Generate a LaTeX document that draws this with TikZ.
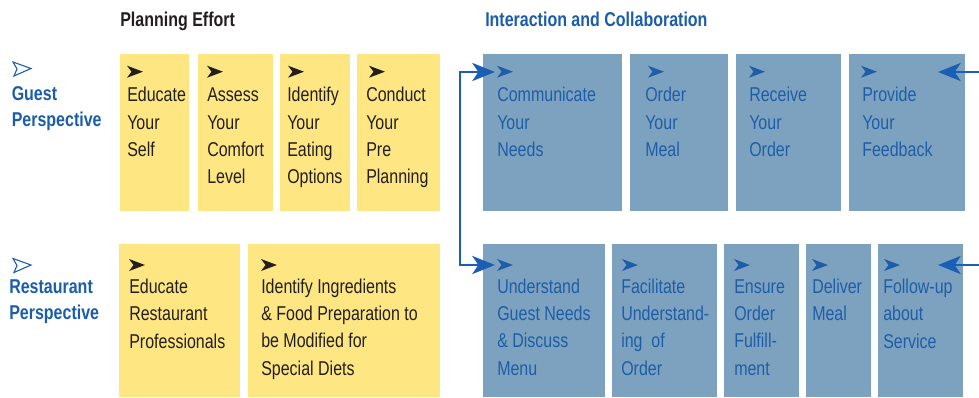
\documentclass[tikz,border=0pt]{standalone}
\usepackage{fontspec}
\setmainfont{Liberation Sans}[FakeStretch=0.8]
\usetikzlibrary{arrows.meta,fit}
\definecolor{yfill}{HTML}{FEE783}
\definecolor{bfill}{HTML}{7DA2BF}
\definecolor{btext}{HTML}{1E5EA8}
\definecolor{hblue}{HTML}{1B5DAA}
\definecolor{ablue}{HTML}{1A5FB4}
\definecolor{dtext}{HTML}{231F20}
\tikzset{
  ybox/.style={fill=yfill, draw=none, inner sep=0pt},
  bbox/.style={fill=bfill, draw=none, inner sep=0pt},
  txt/.style={anchor=base west, align=left, inner sep=0pt, font=\fontsize{15}{20.5}\selectfont},
  ytxt/.style={txt, text=dtext},
  btxt/.style={txt, text=btext},
  hdr/.style={anchor=base west, inner sep=0pt, font=\fontsize{15}{20}\selectfont\bfseries},
  lbl/.style={anchor=base west, align=left, inner sep=0pt, text=hblue, font=\fontsize{15}{19.8}\selectfont\bfseries},
  harr/.pic={\fill (0,0) -- (-16,-6) -- (-11.5,0) -- (-16,6) -- cycle;},
  oarr/.pic={\draw[line width=0.8pt, line join=miter] (0,0) -- (-18,-6.5) -- (-14,0.5) -- (-17,7.5) -- cycle;},
  conn/.style={draw=ablue, line width=2pt},
  bigtip/.tip={Stealth[length=17pt, width=13.5pt, inset=4.5pt]}
}
\begin{document}
\begin{tikzpicture}[x=0.75pt,y=-0.75pt]
\useasboundingbox (0,0) rectangle (979,397);
% headers
\node[hdr, text=dtext] (h1) at (120,26.5) {Planning Effort};
\node[hdr, text=hblue] (h2) at (485,26.5) {Interaction and Collaboration};
% row labels (anchor = baseline of last line)
\path[hblue] (31,68.5) pic {oarr};
\node[lbl] (lg) at (11.5,126.4) {Guest\\Perspective};
\path[hblue] (31,265) pic {oarr};
\node[lbl] (lr) at (9,319.4) {Restaurant\\Perspective};
% guest row boxes
\node[ybox, fit={(120,54)(189,211)}] (g1) {};
\node[ybox, fit={(198,54)(273,211)}] (g2) {};
\node[ybox, fit={(280,54)(350,211)}] (g3) {};
\node[ybox, fit={(357,54)(440,211)}] (g4) {};
\node[bbox, fit={(483,54)(622,211)}] (g5) {};
\node[bbox, fit={(630,54)(728,211)}] (g6) {};
\node[bbox, fit={(736,54)(841,211)}] (g7) {};
\node[bbox, fit={(849,54)(965,211)}] (g8) {};
% restaurant row boxes
\node[ybox, fit={(119,244)(240,397)}] (r1) {};
\node[ybox, fit={(248,244)(440,397)}] (r2) {};
\node[bbox, fit={(483,244)(605,397)}] (r3) {};
\node[bbox, fit={(612,244)(717,397)}] (r4) {};
\node[bbox, fit={(724,244)(799,397)}] (r5) {};
\node[bbox, fit={(806,244)(871,397)}] (r6) {};
\node[bbox, fit={(878,244)(963,397)}] (r7) {};
% small arrowheads guest row
\path[dtext] (143,71.7) pic {harr} (223,71.7) pic {harr} (304,71.7) pic {harr} (385,71.7) pic {harr};
\path[btext] (513,71.7) pic {harr} (664,71.7) pic {harr} (765,71.7) pic {harr} (877,71.7) pic {harr};
% small arrowheads restaurant row
\path[dtext] (145,265) pic {harr} (277,265) pic {harr};
\path[btext] (513,265) pic {harr} (638,265) pic {harr} (750,265) pic {harr} (828,265) pic {harr} (900,265) pic {harr};
% guest texts (anchor = baseline of last line)
\node[ytxt] (tg1) at (127,156.4) {Educate\\Your\\Self};
\node[ytxt] (tg2) at (207,183.7) {Assess\\Your\\Comfort\\Level};
\node[ytxt] (tg3) at (287,183.7) {Identify\\Your\\Eating\\Options};
\node[ytxt] (tg4) at (366,183.7) {Conduct\\Your\\Pre\\Planning};
\node[btxt] (tg5) at (497,156.4) {Communicate\\Your\\Needs};
\node[btxt] (tg6) at (645,156.4) {Order\\Your\\Meal};
\node[btxt] (tg7) at (749,156.4) {Receive\\Your\\Order};
\node[btxt] (tg8) at (862,156.4) {Provide\\Your\\Feedback};
% restaurant texts
\node[ytxt] (tr1) at (129,348) {Educate\\Restaurant\\Professionals};
\node[ytxt] (tr2) at (261,375.3) {Identify Ingredients\\\& Food Preparation to\\be Modified for\\Special Diets};
\node[btxt] (tr3) at (497,375.3) {Understand\\Guest Needs\\\& Discuss\\Menu};
\node[btxt] (tr4) at (621,375.3) {Facilitate\\Understand-\\ing~ of\\Order};
\node[btxt] (tr5) at (734,375.3) {Ensure\\Order\\Fulfill-\\ment};
\node[btxt] (tr6) at (812,320.6) {Deliver\\Meal};
\node[btxt] (tr7) at (883,348) {Follow-up\\about\\Service};
% connectors
\coordinate (in1) at (495,72);
\coordinate (in2) at (495,265);
\coordinate (e1) at (979,72);
\coordinate (e2) at (979,265);
\coordinate (f1) at (938,72);
\coordinate (f2) at (938,265);
\draw[conn, bigtip-bigtip] (in1) -- (460,72) |- (in2);
\draw[conn, -bigtip] (e1) -- (f1);
\draw[conn, -bigtip] (e2) -- (f2);
\end{tikzpicture}
\end{document}
